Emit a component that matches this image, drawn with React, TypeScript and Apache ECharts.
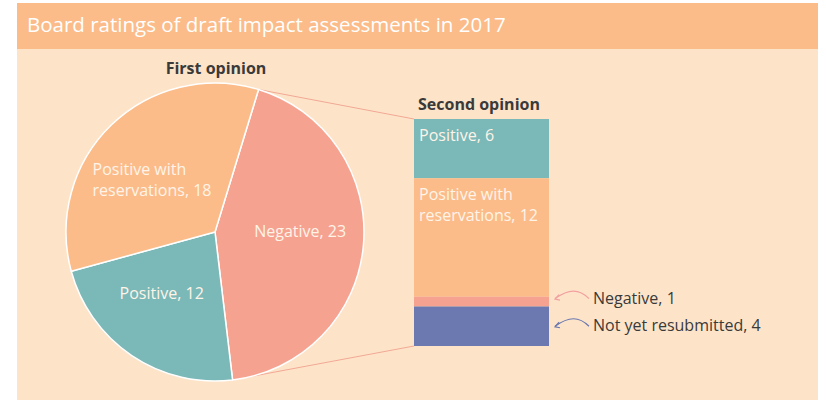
import React, { useEffect, useRef } from "react";
import * as echarts from "echarts";

const titleText = "Board ratings of draft impact assessments in 2017";
const firstTitle = "First opinion";
const secondTitle = "Second opinion";

const pieNames = ["Negative", "Positive", "Positive with\nreservations"];
const pieValues = [23, 12, 18];

const barNames = ["Positive", "Positive with\nreservations", "Negative", "Not yet resubmitted"];
const barValues = [6, 12, 1, 4];

const C_TEAL = "#7bb8b8";
const C_ORANGE = "#fbbc8a";
const C_SALMON = "#f6a290";
const C_PURPLE = "#6c78b0";
const C_BG = "#fde4c9";
const C_LABEL = "#fff4e8";
const C_DARK = "#3a3a3a";

const pieColors = [C_SALMON, C_TEAL, C_ORANGE];
const pieLabelOffsets = [[8, -8], [-10, -3], [-9, 3]];
const barColors = [C_TEAL, C_ORANGE, C_SALMON, C_PURPLE];

const PIE_CX = 215;
const PIE_CY = 232;
const PIE_R = 149;
const START_ANGLE = 73;
const FONT = "'Open Sans', Lato, sans-serif";
const LABEL_SIZE = 16;

export default function App() {
  const ref = useRef<HTMLDivElement>(null);
  useEffect(() => {
    if (!ref.current) return;
    const chart = echarts.init(ref.current, null, { renderer: "svg" });
    const barTotal = barValues.reduce((a, b) => a + b, 0);
    const pieTotal = pieValues.reduce((a, b) => a + b, 0);

    const barSeries = barValues.map((v, i) => {
      const inside = i < 2;
      const label: any = inside
        ? {
            show: true,
            position: "insideTopLeft",
            distance: 5,
            color: C_LABEL,
            fontSize: LABEL_SIZE,
            lineHeight: 21,
            fontFamily: FONT,
            formatter: () => `${barNames[i]}, ${v}`,
          }
        : {
            show: true,
            position: "right",
            distance: 44,
            offset: i === 2 ? [0, -4] : [0, -1],
            color: C_DARK,
            fontSize: LABEL_SIZE,
            fontFamily: FONT,
            formatter: () => `${barNames[i]}, ${v}`,
          };
      return {
        type: "bar",
        name: barNames[i],
        stack: "s",
        barWidth: "100%",
        data: [v],
        itemStyle: { color: barColors[i] },
        label,
        silent: true,
      };
    });

    const option: any = {
      animation: false,
      textStyle: { fontFamily: FONT },
      title: [
        {
          text: titleText,
          left: 27,
          top: 13,
          padding: 0,
          textStyle: { color: "#ffffff", fontSize: 20.5, fontWeight: "normal", fontFamily: FONT },
        },
        {
          text: firstTitle,
          left: 216,
          textAlign: "center",
          top: 60,
          padding: 0,
          textStyle: { color: C_DARK, fontSize: 16, fontWeight: "bold", fontFamily: FONT },
        },
        {
          text: secondTitle,
          left: 418,
          top: 96,
          padding: 0,
          textStyle: { color: C_DARK, fontSize: 16, fontWeight: "bold", fontFamily: FONT },
        },
      ],
      grid: { left: 414, top: 119, width: 135, height: 227, containLabel: false },
      xAxis: { type: "category", data: ["Second opinion"], show: false },
      yAxis: { type: "value", min: 0, max: barTotal, inverse: true, show: false },
      series: [
        {
          type: "pie",
          center: [PIE_CX, PIE_CY],
          radius: PIE_R,
          startAngle: START_ANGLE,
          clockwise: true,
          silent: true,
          itemStyle: { borderColor: "#ffffff", borderWidth: 1.5 },
          label: {
            show: true,
            position: "inside",
            color: C_LABEL,
            fontSize: LABEL_SIZE,
            fontFamily: FONT,
            formatter: (p: any) =>
              p.name
                .split("\n")
                .map((s: string, k: number, arr: string[]) =>
                  `{a|${s}${k === arr.length - 1 ? ", " + p.value : ""}}`
                )
                .join("\n"),
            rich: { a: { align: "left", color: C_LABEL, fontSize: LABEL_SIZE, fontFamily: FONT, lineHeight: 21 } },
          },
          labelLine: { show: false },
          data: pieNames.map((n, i) => ({
            name: n,
            value: pieValues[i],
            itemStyle: { color: pieColors[i] },
            label: { offset: pieLabelOffsets[i] },
          })),
        },
        ...barSeries,
      ],
      graphic: [],
    };
    chart.setOption(option);

    // computed annotations
    const yTop = chart.convertToPixel({ yAxisIndex: 0 }, 0) as number;
    const yBot = chart.convertToPixel({ yAxisIndex: 0 }, barTotal) as number;
    const xLeft = 414;
    const xRight = 549;
    const a0 = (START_ANGLE * Math.PI) / 180;
    const a1 = ((START_ANGLE - (pieValues[0] / pieTotal) * 360) * Math.PI) / 180;
    const p0 = [PIE_CX + PIE_R * Math.cos(a0), PIE_CY - PIE_R * Math.sin(a0)];
    const p1 = [PIE_CX + PIE_R * Math.cos(a1), PIE_CY - PIE_R * Math.sin(a1)];

    const cum = (i: number) => barValues.slice(0, i).reduce((a, b) => a + b, 0);
    const midY = (i: number) => chart.convertToPixel({ yAxisIndex: 0 }, cum(i) + barValues[i] / 2) as number;
    const arrow = (y: number, color: string) => {
      const x1 = xRight + 40;
      const x0 = xRight + 6;
      return [
        {
          type: "bezierCurve",
          z: 10,
          shape: { x1, y1: y + 1, x2: x0, y2: y + 1, cpx1: x1 - 10, cpy1: y - 9, cpx2: x0 + 14, cpy2: y - 9 },
          style: { stroke: color, lineWidth: 1.2, fill: "none" },
          silent: true,
        },
        {
          type: "polyline",
          z: 10,
          shape: { points: [[x0 + 4, y - 3], [x0, y + 1.5], [x0 + 5, y + 2.5]] },
          style: { stroke: color, lineWidth: 1.2, fill: "none" },
          silent: true,
        },
      ];
    };

    chart.setOption({
      graphic: [
        { type: "rect", z: -10, shape: { x: 17, y: 3, width: 801, height: 420 }, style: { fill: C_BG }, silent: true },
        { type: "rect", z: -9, shape: { x: 17, y: 3, width: 801, height: 46 }, style: { fill: C_ORANGE }, silent: true },
        {
          type: "line",
          z: -1,
          shape: { x1: p0[0], y1: p0[1], x2: xLeft, y2: yTop },
          style: { stroke: "#f2a894", lineWidth: 1 },
          silent: true,
        },
        {
          type: "line",
          z: -1,
          shape: { x1: p1[0], y1: p1[1], x2: xLeft, y2: yBot },
          style: { stroke: "#f2a894", lineWidth: 1 },
          silent: true,
        },
        ...arrow(midY(2) - 4, "#f2a0a0"),
        ...arrow(midY(3) - 1, C_PURPLE),
      ],
    });

    return () => chart.dispose();
  }, []);
  return (
    <div
      ref={ref}
      style={{ position: "fixed", left: 0, top: 0, width: 826, height: 400, background: "#ffffff" }}
    />
  );
}
